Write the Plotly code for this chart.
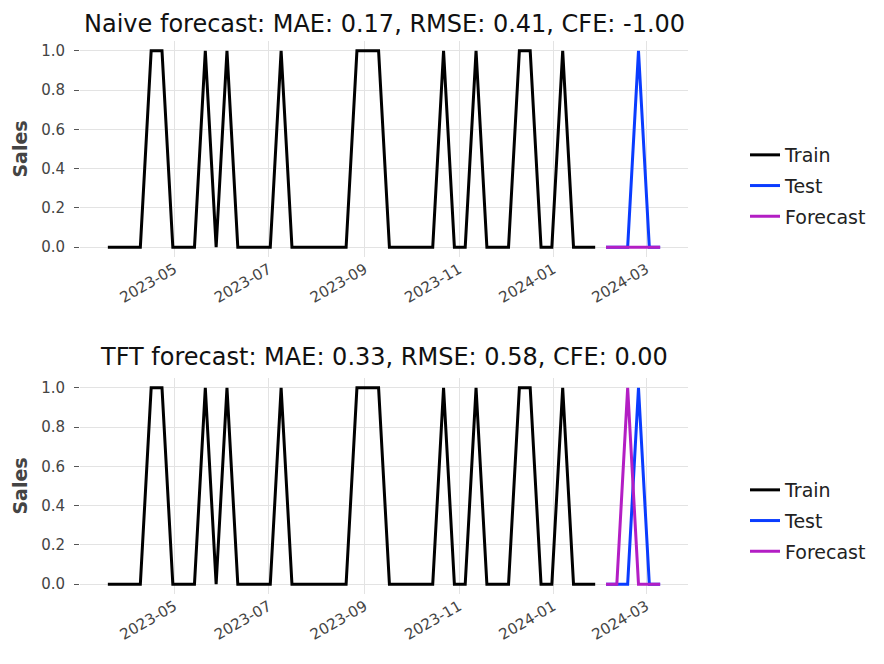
import pandas as pd
import plotly.graph_objects as go

# ---- data ----
train_start = "2023-03-19"
train_sales = [0, 0, 0, 0, 1, 1, 0, 0, 0, 1, 0, 1, 0, 0, 0, 0, 1, 0, 0, 0, 0, 0, 0,
               1, 1, 1, 0, 0, 0, 0, 0, 1, 0, 0, 1, 0, 0, 0, 1, 1, 0, 0, 1, 0, 0, 0]
test_sales = [0, 0, 0, 1, 0, 0]
naive_forecast = [0, 0, 0, 0, 0, 0]
tft_forecast = [0, 0, 1, 0, 0, 0]

titles = ["Naive forecast: MAE: 0.17, RMSE: 0.41, CFE: -1.00",
          "TFT forecast: MAE: 0.33, RMSE: 0.58, CFE: 0.00"]
series_names = ["Train", "Test", "Forecast"]
y_ticks = [0.0, 0.2, 0.4, 0.6, 0.8, 1.0]
x_ticks = ["2023-05-01", "2023-07-01", "2023-09-01", "2023-11-01", "2024-01-01", "2024-03-01"]

all_dates = pd.date_range(train_start, periods=len(train_sales) + len(test_sales), freq="W-SUN")
train_dates = all_dates[:len(train_sales)]
test_dates = all_dates[len(train_sales):]

colors = {"Train": "#000000", "Test": "#0a3cff", "Forecast": "#b31ec4"}
FONT = "DejaVu Sans"

# page body has an 8px default margin: work in screen pixels and convert
OFF = 8
W, H = 884 - OFF, 664 - OFF


def px(x):
    return (x - OFF) / W


def py(y):
    return 1 - (y - OFF) / H


fig = go.Figure()
x_dom = [px(80), px(688)]
y_doms = [[py(257), py(41)], [py(594), py(378)]]
forecasts = [naive_forecast, tft_forecast]
legend_ids = ["legend", "legend2"]

for i in range(2):
    xa = "x" if i == 0 else "x2"
    ya = "y" if i == 0 else "y2"
    for name, xs, ys in [("Train", train_dates, train_sales),
                         ("Test", test_dates, test_sales),
                         ("Forecast", test_dates, forecasts[i])]:
        fig.add_trace(go.Scatter(
            x=xs, y=ys, mode="lines", name=name,
            line=dict(color=colors[name], width=3),
            xaxis=xa, yaxis=ya, legend=legend_ids[i],
            legendgroup=f"{name}{i}", showlegend=True))

axis_common_x = dict(
    domain=x_dom, type="date", automargin=False,
    range=["2023-03-01", "2024-03-28"],
    tickvals=x_ticks, ticktext=[d[:7] for d in x_ticks],
    tickangle=-30, showgrid=True, gridcolor="#e3e3e3", gridwidth=1,
    zeroline=False, showline=False, ticks="", ticklabelstandoff=0,
    tickfont=dict(family=FONT, size=15, color="#444444"),
)
axis_common_y = dict(
    range=[-0.05, 1.05], tickvals=y_ticks, ticktext=[f"{v:.1f}" for v in y_ticks],
    automargin=False,
    showgrid=True, gridcolor="#e3e3e3", gridwidth=1, zeroline=False, showline=False,
    ticks="outside", ticklen=5, tickcolor="#555555", tickwidth=1, ticklabelstandoff=6,
    tickfont=dict(family=FONT, size=15, color="#444444"),
    title=dict(text="<b>Sales</b>", font=dict(family=FONT, size=19, color="#444444"), standoff=8),
)

fig.update_layout(
    xaxis=dict(axis_common_x, anchor="y"),
    yaxis=dict(axis_common_y, domain=y_doms[0], anchor="x"),
    xaxis2=dict(axis_common_x, anchor="y2"),
    yaxis2=dict(axis_common_y, domain=y_doms[1], anchor="x2"),
)

legend_common = dict(
    x=px(745), xanchor="left", yanchor="middle",
    font=dict(family=FONT, size=19, color="#222222"),
    bgcolor="rgba(0,0,0,0)", tracegroupgap=3, traceorder="grouped",
)
fig.update_layout(
    legend=dict(legend_common, y=py(186)),
    legend2=dict(legend_common, y=py(521)),
)

title_pos = [(1.0, "top"), (py(357), "middle")]
for i in range(2):
    fig.add_annotation(
        text=titles[i], x=(x_dom[0] + x_dom[1]) / 2, y=title_pos[i][0],
        xref="paper", yref="paper", xanchor="center", yanchor=title_pos[i][1],
        showarrow=False, font=dict(family=FONT, size=24, color="#111111"))

fig.update_layout(
    width=W, height=H,
    margin=dict(l=0, r=0, t=0, b=0),
    paper_bgcolor="white", plot_bgcolor="white",
    font=dict(family=FONT),
)

fig.write_html("out.html")
